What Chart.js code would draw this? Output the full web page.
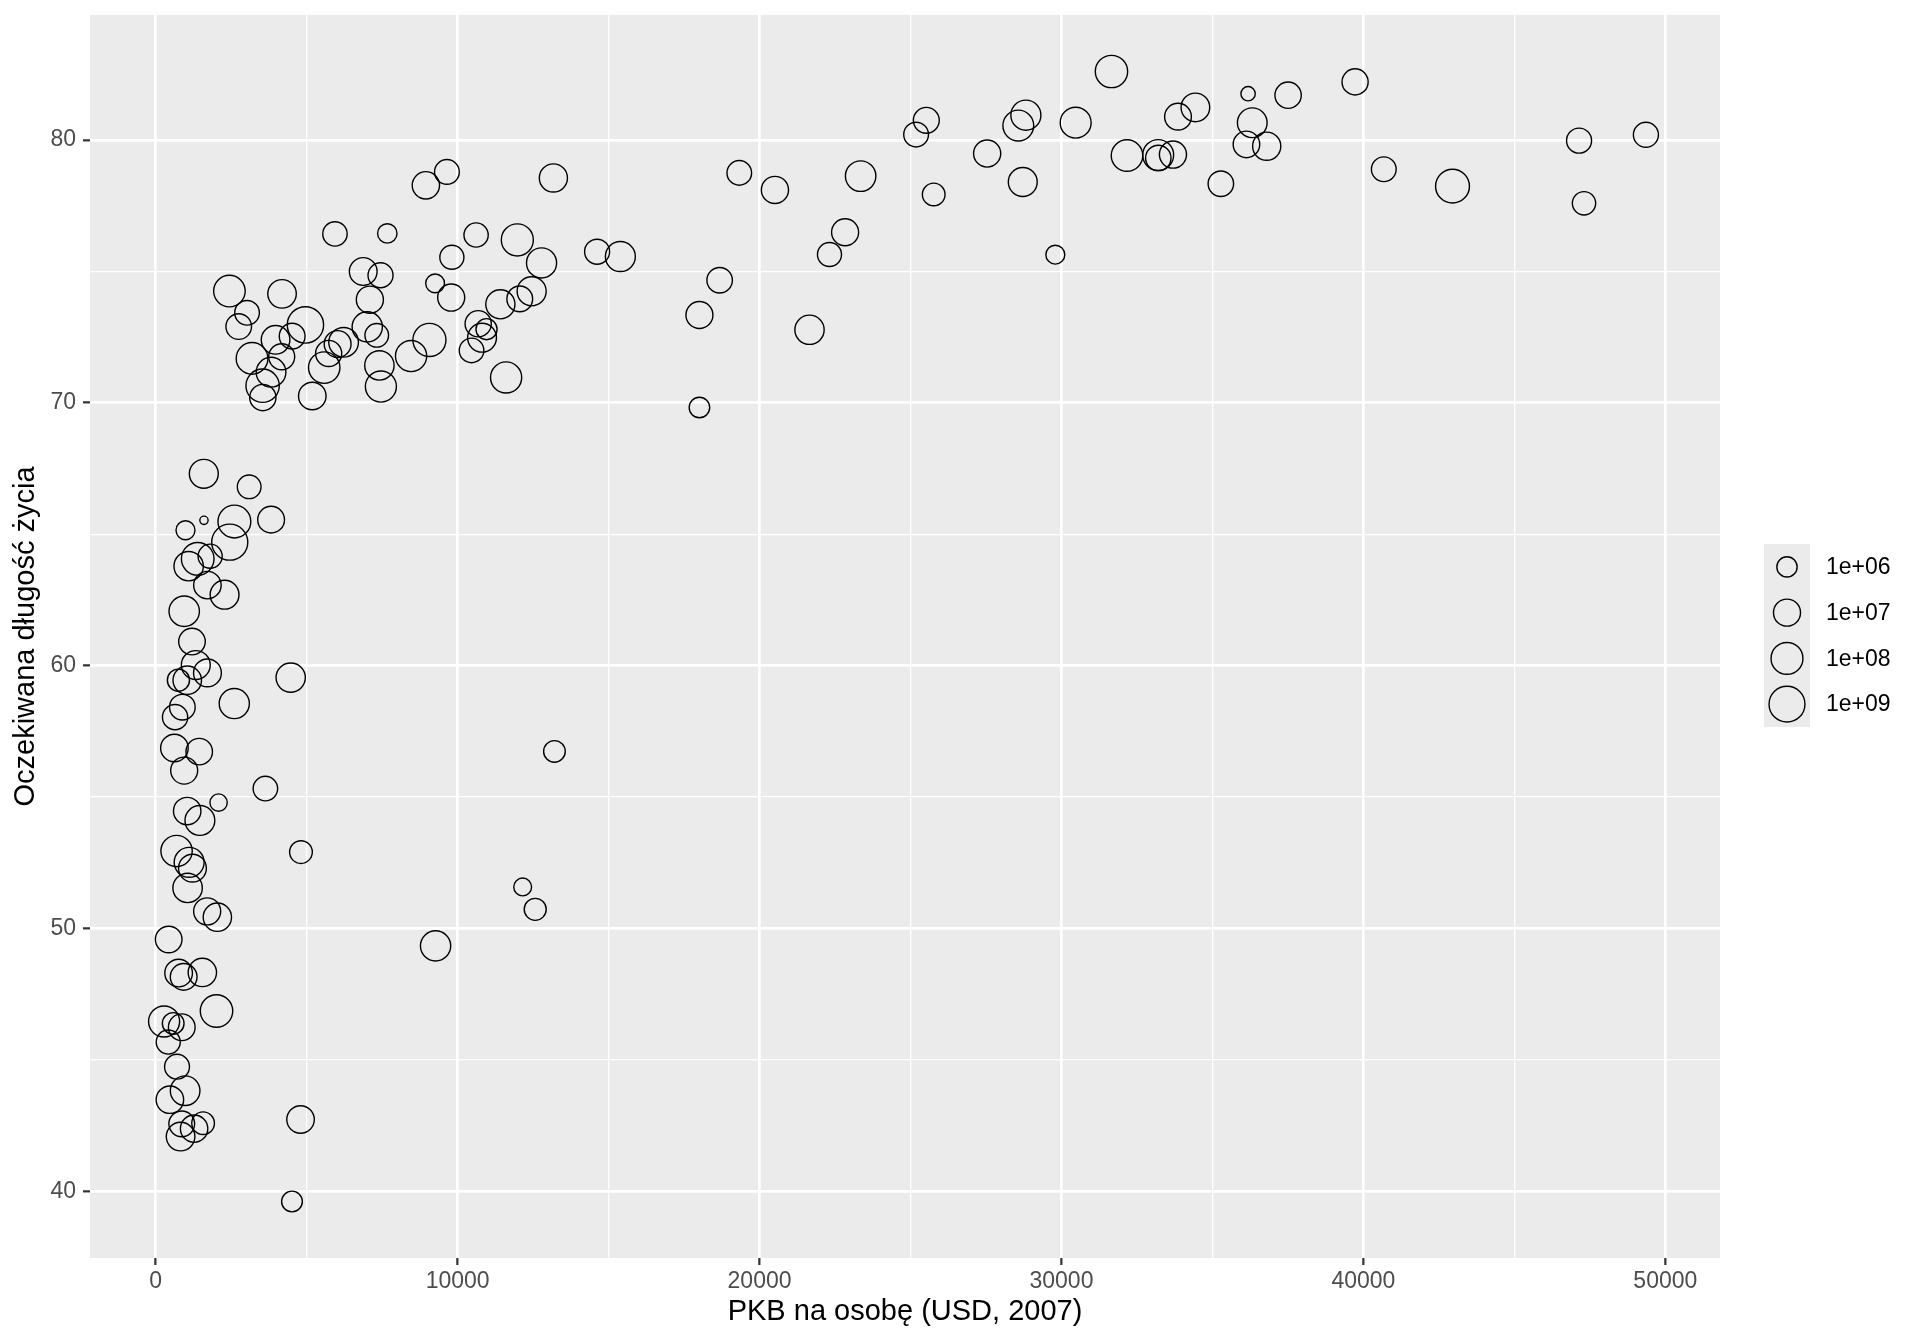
<!DOCTYPE html>
<html>
<head>
<meta charset="utf-8">
<script src="https://cdn.jsdelivr.net/npm/chart.js@4/dist/chart.umd.min.js"></script>
<style>
  html, body { margin: 0; padding: 0; background: #fff; }
  #wrap { width: 1920px; height: 1344px; }
</style>
</head>
<body>
<div id="wrap"><canvas id="chart" width="1920" height="1344"></canvas></div>
<script>
// ================= DATA (gapminder, 2007) =================
const countries = ["Afghanistan","Albania","Algeria","Angola","Argentina","Australia","Austria","Bahrain","Bangladesh","Belgium",
  "Benin","Bolivia","Bosnia and Herzegovina","Botswana","Brazil","Bulgaria","Burkina Faso","Burundi","Cambodia","Cameroon",
  "Canada","Central African Republic","Chad","Chile","China","Colombia","Comoros","Congo, Dem. Rep.","Congo, Rep.","Costa Rica",
  "Cote d'Ivoire","Croatia","Cuba","Czech Republic","Denmark","Djibouti","Dominican Republic","Ecuador","Egypt","El Salvador",
  "Equatorial Guinea","Eritrea","Ethiopia","Finland","France","Gabon","Gambia","Germany","Ghana","Greece",
  "Guatemala","Guinea","Guinea-Bissau","Haiti","Honduras","Hong Kong, China","Hungary","Iceland","India","Indonesia",
  "Iran","Iraq","Ireland","Israel","Italy","Jamaica","Japan","Jordan","Kenya","Korea, Dem. Rep.",
  "Korea, Rep.","Kuwait","Lebanon","Lesotho","Liberia","Libya","Madagascar","Malawi","Malaysia","Mali",
  "Mauritania","Mauritius","Mexico","Mongolia","Montenegro","Morocco","Mozambique","Myanmar","Namibia","Nepal",
  "Netherlands","New Zealand","Nicaragua","Niger","Nigeria","Norway","Oman","Pakistan","Panama","Paraguay",
  "Peru","Philippines","Poland","Portugal","Puerto Rico","Reunion","Romania","Rwanda","Sao Tome and Principe","Saudi Arabia",
  "Senegal","Serbia","Sierra Leone","Singapore","Slovak Republic","Slovenia","Somalia","South Africa","Spain","Sri Lanka",
  "Sudan","Swaziland","Sweden","Switzerland","Syria","Taiwan","Tanzania","Thailand","Togo","Trinidad and Tobago",
  "Tunisia","Turkey","Uganda","United Kingdom","United States","Uruguay","Venezuela","Vietnam","West Bank and Gaza","Yemen, Rep.",
  "Zambia","Zimbabwe"];

const gdpPercap = [974.6, 5937.0, 6223.4, 4797.2, 12779.4, 34435.4, 36126.5, 29796.0, 1391.3, 33692.6,
  1441.3, 3822.1, 7446.3, 12569.9, 9065.8, 10680.8, 1217.0, 430.1, 1713.8, 2042.1,
  36319.2, 706.0, 1704.1, 13171.6, 4959.1, 7006.6, 986.1, 277.6, 3632.6, 9645.1,
  1544.8, 14619.2, 8948.1, 22833.3, 35278.4, 2082.5, 6025.4, 6873.3, 5581.2, 5728.4,
  12154.1, 641.4, 690.8, 33207.1, 30470.0, 13206.5, 752.7, 32170.4, 1327.6, 27538.4,
  5186.1, 942.7, 579.2, 1201.6, 3548.3, 39725.0, 18008.9, 36180.8, 2452.2, 3540.7,
  11605.7, 4471.1, 40676.0, 25523.3, 28569.7, 7320.9, 31656.1, 4519.5, 1463.2, 1593.1,
  23348.1, 47307.0, 10461.1, 1569.3, 414.5, 12057.5, 1044.8, 759.3, 12451.7, 1042.6,
  1803.2, 10957.0, 11977.6, 3095.8, 9253.9, 3820.2, 823.7, 944.0, 4811.1, 1091.4,
  36797.9, 25185.0, 2749.3, 619.7, 2014.0, 49357.2, 22316.2, 2605.9, 9809.2, 4172.8,
  7408.9, 3190.5, 15389.9, 20509.6, 19328.7, 7670.1, 10808.5, 863.1, 1598.4, 21654.8,
  1712.5, 9786.5, 862.5, 47143.2, 18678.3, 25768.3, 926.1, 9269.7, 28821.1, 3970.1,
  2602.4, 4513.5, 33859.7, 37506.4, 4184.5, 28718.3, 1107.5, 7458.4, 883.0, 18008.5,
  7092.9, 8458.3, 1056.4, 33203.3, 42951.7, 10611.5, 11415.8, 2441.6, 3025.3, 2280.8,
  1271.2, 469.7];

const lifeExp = [43.828, 76.423, 72.301, 42.731, 75.32, 81.235, 79.829, 75.635, 64.062, 79.441,
  56.728, 65.554, 74.852, 50.728, 72.39, 73.005, 52.295, 49.58, 59.723, 50.43,
  80.653, 44.741, 50.651, 78.553, 72.961, 72.889, 65.152, 46.462, 55.322, 78.782,
  48.328, 75.748, 78.273, 76.486, 78.332, 54.791, 72.235, 74.994, 71.338, 71.878,
  51.579, 58.04, 52.947, 79.313, 80.657, 56.735, 59.448, 79.406, 60.022, 79.483,
  70.259, 56.007, 46.388, 60.916, 70.198, 82.208, 73.338, 81.757, 64.698, 70.65,
  70.964, 59.545, 78.885, 80.745, 80.546, 72.567, 82.603, 72.535, 54.11, 67.297,
  78.623, 77.588, 71.993, 42.592, 45.678, 73.952, 59.443, 48.303, 74.241, 54.467,
  64.164, 72.801, 76.195, 66.803, 74.543, 71.164, 42.082, 62.069, 52.906, 63.785,
  79.762, 80.204, 72.899, 56.867, 46.859, 80.196, 75.64, 65.483, 75.537, 71.752,
  71.421, 71.688, 75.563, 78.098, 78.746, 76.442, 72.476, 46.242, 65.528, 72.777,
  63.062, 74.002, 42.568, 79.972, 74.663, 77.926, 48.159, 49.339, 80.941, 72.396,
  58.556, 39.613, 80.884, 81.701, 74.143, 78.4, 52.517, 70.616, 58.42, 69.819,
  73.923, 71.777, 51.542, 79.425, 78.242, 76.384, 73.747, 74.249, 73.422, 62.698,
  42.384, 43.487];

const pop = [31889923, 3600523, 33333216, 12420476, 40301927, 20434176, 8199783, 708573, 150448339, 10392226,
  8078314, 9119152, 4552198, 1639131, 190010647, 7322858, 14326203, 8390505, 14131858, 17696293,
  33390141, 4369038, 10238807, 16284741, 1318683096, 44227550, 710960, 64606759, 3800610, 4133884,
  18013409, 4493312, 11416987, 10228744, 5468120, 496374, 9319622, 13755680, 80264543, 6939688,
  551201, 4906585, 76511887, 5238460, 61083916, 1454867, 1688359, 82400996, 22873338, 10706290,
  12572928, 9947814, 1472041, 8502814, 7483763, 6980412, 9956108, 301931, 1110396331, 223547000,
  69453570, 27499638, 4109086, 6426679, 58147733, 2780132, 127467972, 6053193, 35610177, 23301725,
  49044790, 2505559, 3921278, 2012649, 3193942, 6036914, 19167654, 13327079, 24821286, 12031795,
  3270065, 1250882, 108700891, 2874127, 684736, 33757175, 19951656, 47761980, 2055080, 28901790,
  16570613, 4115771, 5675356, 12894865, 135031164, 4627926, 3204897, 169270617, 3242173, 6667147,
  28674757, 91077287, 38518241, 10642836, 3942491, 798094, 22276056, 8860588, 199579, 27601038,
  12267493, 10150265, 6144562, 4553009, 5447502, 2009245, 9118773, 43997828, 40448191, 20378239,
  42292929, 1133066, 9031088, 7554661, 19314747, 23174294, 38139640, 65068149, 5701579, 1056608,
  10276158, 71158647, 29170398, 60776238, 301139947, 3447496, 26084662, 85262356, 4018332, 22211743,
  11746035, 12311143];

const xTicks = [0, 10000, 20000, 30000, 40000, 50000];
const xMinor = [5000, 15000, 25000, 35000, 45000];
const yTicks = [40, 50, 60, 70, 80];
const yMinor = [45, 55, 65, 75];
const sizeBreaks = [1e6, 1e7, 1e8, 1e9];
const sizeLabels = ["1e+06", "1e+07", "1e+08", "1e+09"];

const xTitle = "PKB na osobę (USD, 2007)";
const yTitle = "Oczekiwana długość życia";

// ================= HELPERS =================
const FONT = "'Liberation Sans', Arial, sans-serif";
const STROKE = 1.4;

// ggplot-like 5% expansion of the data range
function expandRange(arr) {
    const lo = Math.min(...arr), hi = Math.max(...arr);
    const pad = (hi - lo) * 0.05;
    return [lo - pad, hi + pad];
}

const popLogMin = Math.log10(Math.min(...pop));
const popLogMax = Math.log10(Math.max(...pop));

// scale_size(trans = "log10"), area palette range 1..6
function radiusFor(p) {
    const t = (Math.log10(p) - popLogMin) / (popLogMax - popLogMin);
    const size = 1 + 5 * Math.sqrt(Math.max(0, t));
    return (5.61 * size + 4.08 - STROKE) / 2;
}

const [xMin, xMax] = expandRange(gdpPercap);
const [yMin, yMax] = expandRange(lifeExp);

const points = gdpPercap.map((g, i) => ({ x: g, y: lifeExp[i], r: radiusFor(pop[i]) }));

const isMajor = (v, list) => list.includes(v);

// ================= PLUGINS =================
const panelBg = {
    id: "panelBg",
    beforeDraw(chart) {
        const { ctx, chartArea: a } = chart;
        ctx.save();
        ctx.fillStyle = "#EBEBEB";
        ctx.fillRect(a.left, a.top, a.right - a.left, a.bottom - a.top);
        ctx.restore();
    }
};

const sizeLegend = {
    id: "sizeLegend",
    afterDraw(chart) {
        const ctx = chart.ctx;
        const keyX = 1764, keyW = 46, keyTop = 544, keyH = 45.75;
        ctx.save();
        ctx.fillStyle = "#EBEBEB";
        ctx.fillRect(keyX, keyTop, keyW, keyH * sizeBreaks.length);
        sizeBreaks.forEach((b, i) => {
            const cy = keyTop + keyH * (i + 0.5);
            ctx.beginPath();
            ctx.arc(keyX + keyW / 2, cy, radiusFor(b), 0, Math.PI * 2);
            ctx.lineWidth = STROKE;
            ctx.strokeStyle = "#000";
            ctx.stroke();
            ctx.fillStyle = "#000";
            ctx.font = `23px ${FONT}`;
            ctx.textAlign = "left";
            ctx.textBaseline = "middle";
            ctx.fillText(sizeLabels[i], 1826, cy + 1);
        });
        ctx.restore();
    }
};

// ================= CHART =================
const tickFont = { family: FONT, size: 23 };
const titleFont = { family: FONT, size: 29 };

new Chart(document.getElementById("chart"), {
    type: "bubble",
    data: {
        datasets: [{
            label: "pop",
            data: points,
            backgroundColor: "rgba(0,0,0,0)",
            borderColor: "#000000",
            borderWidth: STROKE
        }]
    },
    plugins: [panelBg, sizeLegend],
    options: {
        responsive: false,
        animation: false,
        events: [],
        devicePixelRatio: 1,
        layout: {
            autoPadding: false,
            padding: { left: 0, top: 15, right: 200, bottom: 0 }
        },
        plugins: {
            legend: { display: false },
            tooltip: { enabled: false }
        },
        scales: {
            x: {
                type: "linear",
                min: xMin,
                max: xMax,
                afterFit: (s) => {
                    s.height = 86;
                    s.paddingLeft = 0;
                    s.paddingRight = 0;
                },
                afterBuildTicks: (s) => {
                    s.ticks = [...xTicks, ...xMinor].sort((a, b) => a - b).map(v => ({ value: v }));
                },
                border: { display: false },
                grid: {
                    color: "#FFFFFF",
                    lineWidth: (c) => isMajor(c.tick.value, xTicks) ? 2.7 : 1.3,
                    tickLength: 7,
                    tickWidth: 2.2,
                    tickColor: (c) => isMajor(c.tick.value, xTicks) ? "#333333" : "rgba(0,0,0,0)"
                },
                ticks: {
                    autoSkip: false,
                    maxRotation: 0,
                    padding: 3,
                    color: "#4D4D4D",
                    font: tickFont,
                    callback: (v) => isMajor(v, xTicks) ? String(v) : ""
                },
                title: {
                    display: true,
                    text: xTitle,
                    color: "#000000",
                    font: titleFont,
                    padding: { top: 0, bottom: 15 }
                }
            },
            y: {
                type: "linear",
                min: yMin,
                max: yMax,
                afterFit: (s) => {
                    s.width = 90;
                    s.paddingTop = 0;
                    s.paddingBottom = 0;
                },
                afterBuildTicks: (s) => {
                    s.ticks = [...yTicks, ...yMinor].sort((a, b) => a - b).map(v => ({ value: v }));
                },
                border: { display: false },
                grid: {
                    color: "#FFFFFF",
                    lineWidth: (c) => isMajor(c.tick.value, yTicks) ? 2.7 : 1.3,
                    tickLength: 7,
                    tickWidth: 2.2,
                    tickColor: (c) => isMajor(c.tick.value, yTicks) ? "#333333" : "rgba(0,0,0,0)"
                },
                ticks: {
                    autoSkip: false,
                    padding: 7,
                    color: "#4D4D4D",
                    font: tickFont,
                    callback: (v) => isMajor(v, yTicks) ? String(v) : ""
                },
                title: {
                    display: true,
                    text: yTitle,
                    color: "#000000",
                    font: titleFont,
                    padding: { top: 9, bottom: 0 }
                }
            }
        }
    }
});
</script>
</body>
</html>
